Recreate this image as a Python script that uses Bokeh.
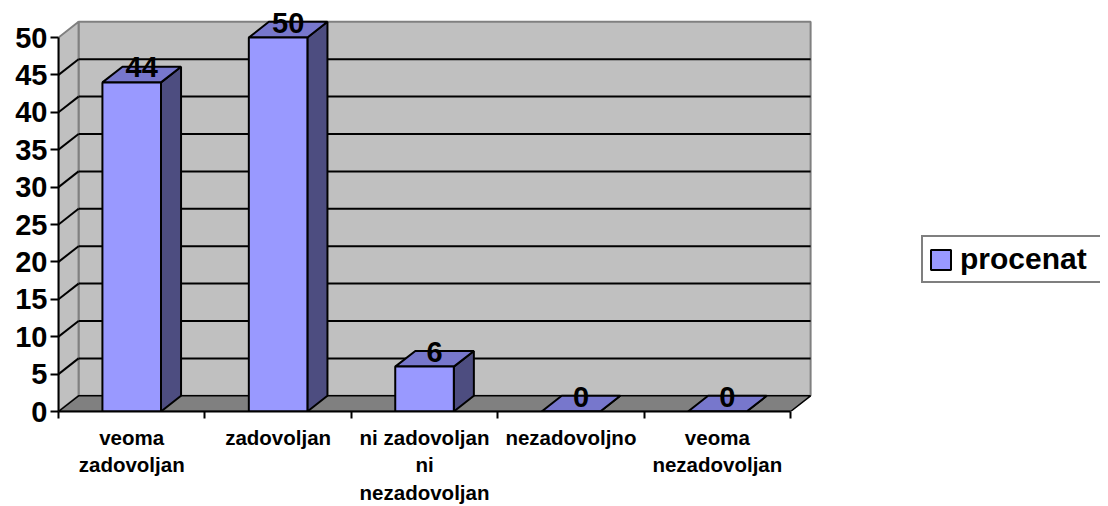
from bokeh.plotting import figure
from bokeh.models import Range1d, FixedTicker, Legend, LegendItem
from bokeh.core.properties import value
from bokeh.embed import file_html
from bokeh.resources import INLINE

# ---- data ----
categories = ["veoma\nzadovoljan", "zadovoljan", "ni zadovoljan\nni\nnezadovoljan",
              "nezadovoljno", "veoma\nnezadovoljan"]
values = [44, 50, 6, 0, 0]
series_name = "procenat"
y_ticks = [0, 5, 10, 15, 20, 25, 30, 35, 40, 45, 50]
grid_lines = [5, 10, 15, 20, 25, 30, 35, 40, 45]

FONT_NAME = "Liberation Sans"
FONT = value(FONT_NAME)
n = len(categories)
ymax = y_ticks[-1]

# 3D depth offsets in data units
DX = 0.137
DY = 2.1
HW = 0.2  # bar half width

p = figure(frame_width=1042, frame_height=403,
           x_range=Range1d(0, 7.117), y_range=Range1d(0, 53.88),
           output_backend="svg", toolbar_location=None,
           min_border_left=58, min_border_top=8, min_border_right=0,
           min_border_bottom=0)
p.outline_line_color = None
p.xgrid.visible = False
p.ygrid.visible = False
p.background_fill_color = "white"
p.border_fill_color = "white"

# back wall
p.quad(left=[DX], right=[n + DX], bottom=[DY], top=[ymax + DY],
       fill_color="#C0C0C0", line_color="#808080", line_width=2)
# left side wall
p.patch([0, DX, DX, 0], [0, DY, ymax + DY, ymax],
        fill_color="#C0C0C0", line_color="#808080", line_width=2)
# gridlines
p.segment(x0=[DX] * len(grid_lines), y0=[g + DY for g in grid_lines],
          x1=[n + DX] * len(grid_lines), y1=[g + DY for g in grid_lines],
          line_color="black", line_width=2)
p.segment(x0=[0] * len(grid_lines), y0=grid_lines,
          x1=[DX] * len(grid_lines), y1=[g + DY for g in grid_lines],
          line_color="black", line_width=2)
# floor
p.patch([0, n, n + DX, DX], [0, 0, DY, DY],
        fill_color="#808080", line_color="black", line_width=1.5)

# bars
cx = [i + 0.5 for i in range(n)]
side_xs, side_ys, top_xs, top_ys = [], [], [], []
for c, v in zip(cx, values):
    side_xs.append([c + HW, c + HW + DX, c + HW + DX, c + HW])
    side_ys.append([0, DY, v + DY, v])
    top_xs.append([c - HW, c + HW, c + HW + DX, c - HW + DX])
    top_ys.append([v, v, v + DY, v + DY])
p.patches(side_xs, side_ys, fill_color="#4D4D80", line_color="black", line_width=2)
p.patches(top_xs, top_ys, fill_color="#7777CC", line_color="black", line_width=2)
front = p.quad(left=[c - HW for c in cx], right=[c + HW for c in cx],
               bottom=[0] * n, top=values,
               fill_color="#9999FF", line_color="black", line_width=2)

# data labels
p.text(x=[c + DX / 2 for c in cx], y=[v + DY * 0.95 for v in values],
       text=[str(v) for v in values], text_font=FONT, text_font_style="bold",
       text_font_size="29px", text_align="center", text_baseline="middle",
       text_color="black")

# y axis
ya = p.yaxis[0]
ya.ticker = FixedTicker(ticks=y_ticks)
ya.bounds = (0, ymax)
ya.axis_line_color = "black"
ya.axis_line_width = 2
ya.major_tick_out = 8
ya.major_tick_in = 0
ya.major_tick_line_width = 2
ya.minor_tick_line_color = None
ya.major_label_standoff = 3
ya.major_label_text_font = FONT_NAME
ya.major_label_text_font_style = "bold"
ya.major_label_text_font_size = "29px"
ya.major_label_text_color = "black"

# x axis
xa = p.xaxis[0]
xa.ticker = FixedTicker(ticks=cx, minor_ticks=list(range(n + 1)))
xa.bounds = (0, n)
xa.major_label_overrides = {c: lab for c, lab in zip(cx, categories)}
xa.axis_line_color = "black"
xa.axis_line_width = 2
xa.major_tick_line_color = None
xa.major_tick_out = 7
xa.major_tick_in = 0
xa.minor_tick_out = 7
xa.minor_tick_in = 0
xa.minor_tick_line_color = "black"
xa.minor_tick_line_width = 2
xa.major_label_standoff = 7
xa.major_label_text_font = FONT_NAME
xa.major_label_text_font_style = "bold"
xa.major_label_text_font_size = "20.5px"
xa.major_label_text_line_height = 1.21
xa.major_label_text_color = "black"

# legend
legend = Legend(items=[LegendItem(label=series_name, renderers=[front])],
                location=(863, 128), orientation="vertical",
                border_line_color="black", border_line_width=2,
                background_fill_color="white", background_fill_alpha=1,
                padding=5, spacing=0, label_standoff=7,
                glyph_width=25, glyph_height=25, label_width=137,
                label_text_font=FONT_NAME, label_text_font_style="bold",
                label_text_font_size="30px", label_text_color="black")
p.add_layout(legend)

open("out.html", "w").write(file_html(p, INLINE))
